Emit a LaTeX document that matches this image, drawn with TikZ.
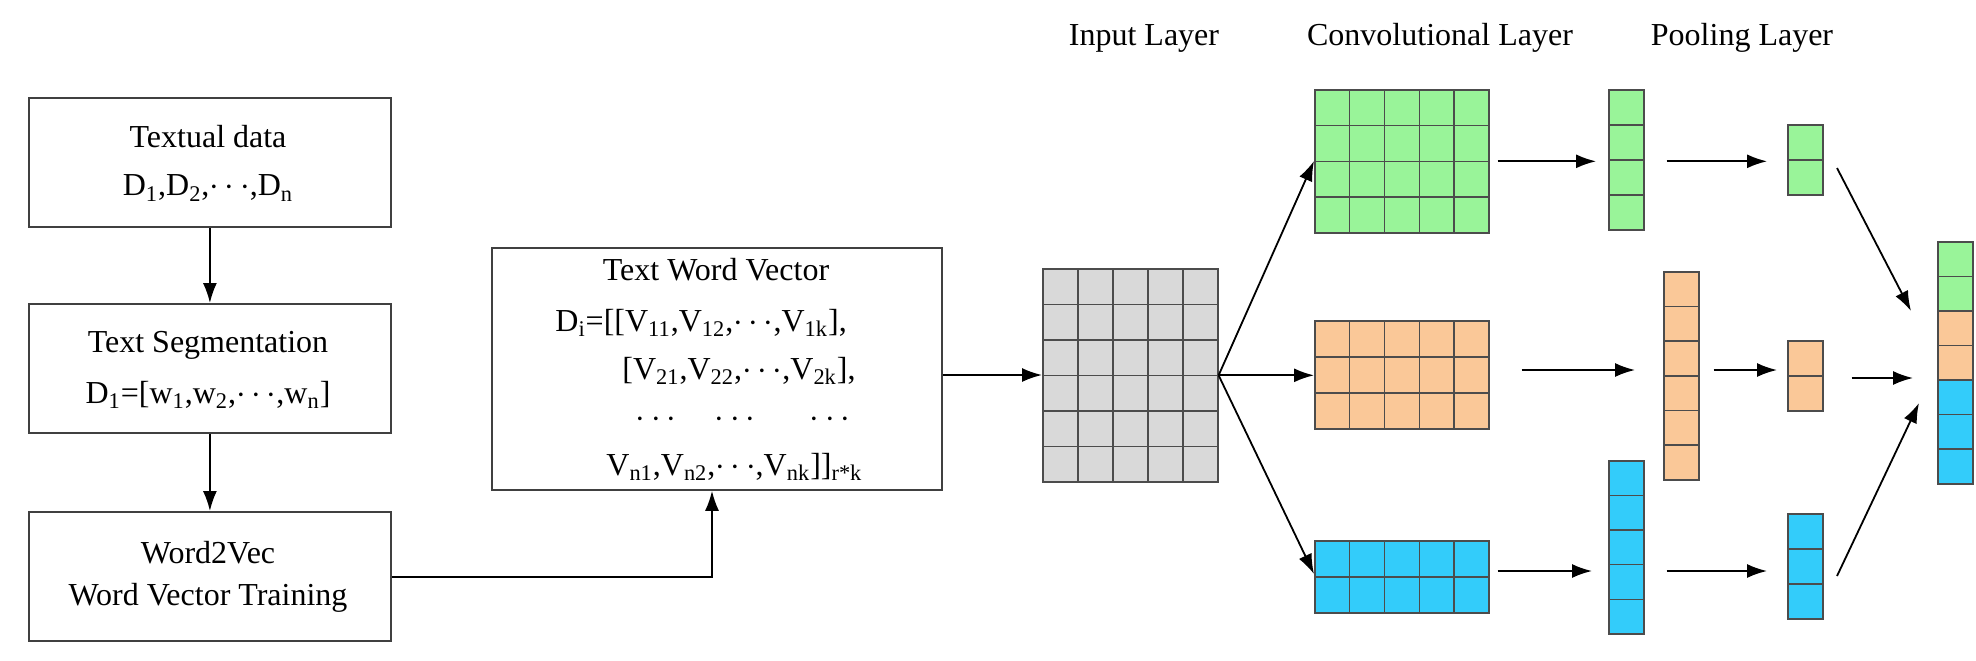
\documentclass[tikz,border=0pt]{standalone}
\usepackage{fontspec}
\setmainfont{Liberation Serif}
\usetikzlibrary{arrows.meta,calc}
\definecolor{cg}{HTML}{99F499}
\definecolor{co}{HTML}{FAC898}
\definecolor{cb}{HTML}{33CCFA}
\definecolor{cgr}{HTML}{D9D9D9}
\newcommand\mygrid[8]{% name,x1,y1,x2,y2,cols,rows,color
  \node[draw=black!70, line width=0.8pt, fill=#8, inner sep=0pt, anchor=north west,
    minimum width={(#4-#2)*0.5pt}, minimum height={(#5-#3)*0.5pt},
    path picture={
      \foreach \i in {1,...,#6}{\draw[line width=0.7pt] ($(path picture bounding box.south west)!\i/#6!(path picture bounding box.south east)$) -- ($(path picture bounding box.north west)!\i/#6!(path picture bounding box.north east)$);}
      \foreach \j in {1,...,#7}{\draw[line width=0.7pt] ($(path picture bounding box.south west)!\j/#7!(path picture bounding box.north west)$) -- ($(path picture bounding box.south east)!\j/#7!(path picture bounding box.north east)$);}
    }] (#1) at (#2,#3) {};}
\begin{document}
\begin{tikzpicture}[x=0.5pt,y=-0.5pt,
  box/.style={draw=black!75, line width=0.9pt, anchor=north west, inner sep=0pt},
  bt/.style={font=\fontsize{16}{19}\selectfont, inner sep=0pt},
  lab/.style={font=\fontsize{16}{19}\selectfont},
  arr/.style={-{Latex[length=10pt,width=7pt]}, line width=0.9pt}]
\useasboundingbox (0,0) rectangle (1976,660);
% left boxes
\node[box, minimum width=181pt, minimum height=64.5pt] (b1) at (28,97) {};
\node[box, minimum width=181pt, minimum height=64.5pt] (b2) at (28,303) {};
\node[box, minimum width=181pt, minimum height=64.5pt] (b3) at (28,511) {};
\node[bt] (t1a) at (208,137) {Textual data};
\node[bt] (t1b) at (208,188) {D\textsubscript{1},D\textsubscript{2},$\cdots$,D\textsubscript{n}};
\node[bt] (t2a) at (208,345) {Text Segmentation};
\node[bt] (t2b) at (208,395) {D\textsubscript{1}=[w\textsubscript{1},w\textsubscript{2},$\cdots$,w\textsubscript{n}]};
\node[bt] (t3a) at (208,553) {Word2Vec};
\node[bt] (t3b) at (208,598) {Word Vector Training};
% text word vector
\node[box, minimum width=225pt, minimum height=121pt] (tw) at (491,247) {};
\node[bt] (twa) at (716,270) {Text Word Vector};
\node[bt,anchor=west] (twb) at (555,323) {D\textsubscript{i}=[[V\textsubscript{11},V\textsubscript{12},$\cdots$,V\textsubscript{1k}],};
\node[bt,anchor=west] (twc) at (622,371) {[V\textsubscript{21},V\textsubscript{22},$\cdots$,V\textsubscript{2k}],};
\node[bt] (twd1) at (656,420) {$\cdots$};
\node[bt] (twd2) at (735,420) {$\cdots$};
\node[bt] (twd3) at (830,420) {$\cdots$};
\node[bt,anchor=west] (twe) at (606,467) {V\textsubscript{n1},V\textsubscript{n2},$\cdots$,V\textsubscript{nk}]]\textsubscript{r*k}};
\draw[arr] (b1.south) -- (b2.north);
\draw[arr] (b2.south) -- (b3.north);
\draw[arr] (b3.east |- 0,577) -| (tw.south -| 712,0);
% labels
\node[lab] (l1) at (1144,38) {Input Layer};
\node[lab] (l2) at (1440,38) {Convolutional Layer};
\node[lab] (l3) at (1742,38) {Pooling Layer};
% grids
\mygrid{in}{1042}{268}{1217}{481}{5}{6}{cgr}
\mygrid{gc}{1314}{89}{1488}{232}{5}{4}{cg}
\mygrid{oc}{1314}{320}{1488}{428}{5}{3}{co}
\mygrid{bc}{1314}{540}{1488}{612}{5}{2}{cb}
\mygrid{g1}{1608}{89}{1643}{229}{1}{4}{cg}
\mygrid{o1}{1663}{271}{1698}{479}{1}{6}{co}
\mygrid{b1c}{1608}{460}{1643}{633}{1}{5}{cb}
\mygrid{gp}{1787}{124}{1822}{194}{1}{2}{cg}
\mygrid{op}{1787}{340}{1822}{410}{1}{2}{co}
\mygrid{bp}{1787}{513}{1822}{618}{1}{3}{cb}
\mygrid{fg}{1937}{241}{1972}{310}{1}{2}{cg}
\mygrid{fo}{1937}{310}{1972}{379}{1}{2}{co}
\mygrid{fb}{1937}{379}{1972}{483}{1}{3}{cb}
% arrows
\draw[arr] (tw.east |- 0,375) -- (in.west |- 0,375);
\draw[arr] (in.east) -- (gc.west |- 0,161);
\draw[arr] (in.east) -- (oc.west |- in.east);
\draw[arr] (in.east) -- (bc.west |- 0,574);
\draw[arr, shorten <=4pt, shorten >=6pt] (gc.east) -- (g1.west |- gc.east);
\draw[arr, shorten <=11pt, shorten >=10pt] (g1.east |- gc.east) -- (gp.west |- gc.east);
\draw[arr, shorten <=16pt, shorten >=14pt] (oc.east |- 0,370) -- (o1.west |- 0,370);
\draw[arr, shorten <=7pt, shorten >=5pt] (o1.east |- 0,370) -- (op.west |- 0,370);
\draw[arr, shorten <=4pt, shorten >=8pt] (bc.east |- 0,571) -- (b1c.west |- 0,571);
\draw[arr, shorten <=11pt, shorten >=10pt] (b1c.east |- 0,571) -- (bp.west |- 0,571);
\draw[arr, shorten <=14pt, shorten >=12pt] (op.east |- 0,378) -- (fo.west |- 0,378);
\coordinate (gs) at (1837,168); \coordinate (ge) at (1911,311);
\coordinate (bs) at (1837,576); \coordinate (be) at (1919,403);
\draw[arr] (gs) -- (ge);
\draw[arr] (bs) -- (be);
\end{tikzpicture}
\end{document}
